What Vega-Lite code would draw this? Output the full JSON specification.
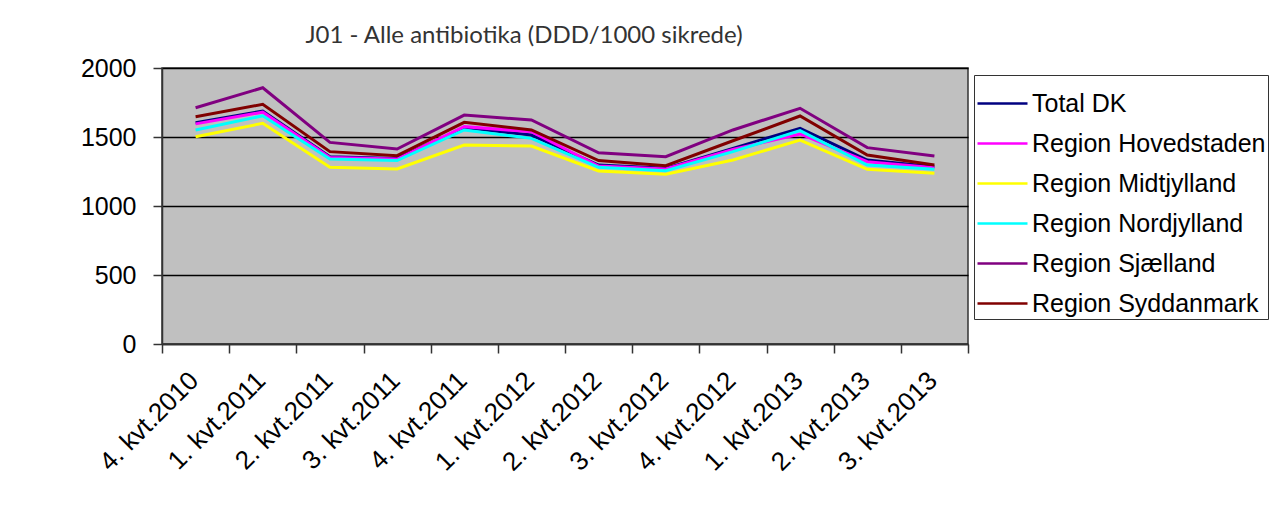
{
  "$schema": "https://vega.github.io/schema/vega-lite/v6.json",
  "autosize": {"type": "none"},
  "padding": {"left": 162, "top": 68, "right": 317, "bottom": 186},
  "width": 806,
  "height": 276,
  "background": "white",
  "title": {
    "text": "J01 - Alle antibiotika (DDD/1000 sikrede)",
    "font": "Lato",
    "fontSize": 24,
    "fontWeight": "normal",
    "color": "#333333",
    "anchor": "middle",
    "frame": "group",
    "baseline": "alphabetic",
    "offset": 12,
    "dy": 23,
    "dx": -41
  },
  "data": {
    "values": [
      {"kvartal": "4. kvt.2010", "region": "Total DK", "ddd": 1604},
      {"kvartal": "1. kvt.2011", "region": "Total DK", "ddd": 1688},
      {"kvartal": "2. kvt.2011", "region": "Total DK", "ddd": 1357},
      {"kvartal": "3. kvt.2011", "region": "Total DK", "ddd": 1345},
      {"kvartal": "4. kvt.2011", "region": "Total DK", "ddd": 1568},
      {"kvartal": "1. kvt.2012", "region": "Total DK", "ddd": 1514},
      {"kvartal": "2. kvt.2012", "region": "Total DK", "ddd": 1297},
      {"kvartal": "3. kvt.2012", "region": "Total DK", "ddd": 1273},
      {"kvartal": "4. kvt.2012", "region": "Total DK", "ddd": 1418},
      {"kvartal": "1. kvt.2013", "region": "Total DK", "ddd": 1563},
      {"kvartal": "2. kvt.2013", "region": "Total DK", "ddd": 1333},
      {"kvartal": "3. kvt.2013", "region": "Total DK", "ddd": 1285},
      {"kvartal": "4. kvt.2010", "region": "Region Hovedstaden", "ddd": 1595},
      {"kvartal": "1. kvt.2011", "region": "Region Hovedstaden", "ddd": 1680},
      {"kvartal": "2. kvt.2011", "region": "Region Hovedstaden", "ddd": 1352},
      {"kvartal": "3. kvt.2011", "region": "Region Hovedstaden", "ddd": 1340},
      {"kvartal": "4. kvt.2011", "region": "Region Hovedstaden", "ddd": 1575},
      {"kvartal": "1. kvt.2012", "region": "Region Hovedstaden", "ddd": 1538},
      {"kvartal": "2. kvt.2012", "region": "Region Hovedstaden", "ddd": 1290},
      {"kvartal": "3. kvt.2012", "region": "Region Hovedstaden", "ddd": 1268},
      {"kvartal": "4. kvt.2012", "region": "Region Hovedstaden", "ddd": 1410},
      {"kvartal": "1. kvt.2013", "region": "Region Hovedstaden", "ddd": 1522},
      {"kvartal": "2. kvt.2013", "region": "Region Hovedstaden", "ddd": 1321},
      {"kvartal": "3. kvt.2013", "region": "Region Hovedstaden", "ddd": 1278},
      {"kvartal": "4. kvt.2010", "region": "Region Midtjylland", "ddd": 1502},
      {"kvartal": "1. kvt.2011", "region": "Region Midtjylland", "ddd": 1599},
      {"kvartal": "2. kvt.2011", "region": "Region Midtjylland", "ddd": 1280},
      {"kvartal": "3. kvt.2011", "region": "Region Midtjylland", "ddd": 1268},
      {"kvartal": "4. kvt.2011", "region": "Region Midtjylland", "ddd": 1442},
      {"kvartal": "1. kvt.2012", "region": "Region Midtjylland", "ddd": 1435},
      {"kvartal": "2. kvt.2012", "region": "Region Midtjylland", "ddd": 1254},
      {"kvartal": "3. kvt.2012", "region": "Region Midtjylland", "ddd": 1230},
      {"kvartal": "4. kvt.2012", "region": "Region Midtjylland", "ddd": 1333},
      {"kvartal": "1. kvt.2013", "region": "Region Midtjylland", "ddd": 1478},
      {"kvartal": "2. kvt.2013", "region": "Region Midtjylland", "ddd": 1266},
      {"kvartal": "3. kvt.2013", "region": "Region Midtjylland", "ddd": 1237},
      {"kvartal": "4. kvt.2010", "region": "Region Nordjylland", "ddd": 1551},
      {"kvartal": "1. kvt.2011", "region": "Region Nordjylland", "ddd": 1654},
      {"kvartal": "2. kvt.2011", "region": "Region Nordjylland", "ddd": 1341},
      {"kvartal": "3. kvt.2011", "region": "Region Nordjylland", "ddd": 1329},
      {"kvartal": "4. kvt.2011", "region": "Region Nordjylland", "ddd": 1551},
      {"kvartal": "1. kvt.2012", "region": "Region Nordjylland", "ddd": 1490},
      {"kvartal": "2. kvt.2012", "region": "Region Nordjylland", "ddd": 1280},
      {"kvartal": "3. kvt.2012", "region": "Region Nordjylland", "ddd": 1256},
      {"kvartal": "4. kvt.2012", "region": "Region Nordjylland", "ddd": 1394},
      {"kvartal": "1. kvt.2013", "region": "Region Nordjylland", "ddd": 1546},
      {"kvartal": "2. kvt.2013", "region": "Region Nordjylland", "ddd": 1297},
      {"kvartal": "3. kvt.2013", "region": "Region Nordjylland", "ddd": 1266},
      {"kvartal": "4. kvt.2010", "region": "Region Sjælland", "ddd": 1712},
      {"kvartal": "1. kvt.2011", "region": "Region Sjælland", "ddd": 1857},
      {"kvartal": "2. kvt.2011", "region": "Region Sjælland", "ddd": 1461},
      {"kvartal": "3. kvt.2011", "region": "Region Sjælland", "ddd": 1413},
      {"kvartal": "4. kvt.2011", "region": "Region Sjælland", "ddd": 1659},
      {"kvartal": "1. kvt.2012", "region": "Region Sjælland", "ddd": 1623},
      {"kvartal": "2. kvt.2012", "region": "Region Sjælland", "ddd": 1386},
      {"kvartal": "3. kvt.2012", "region": "Region Sjælland", "ddd": 1357},
      {"kvartal": "4. kvt.2012", "region": "Region Sjælland", "ddd": 1551},
      {"kvartal": "1. kvt.2013", "region": "Region Sjælland", "ddd": 1708},
      {"kvartal": "2. kvt.2013", "region": "Region Sjælland", "ddd": 1423},
      {"kvartal": "3. kvt.2013", "region": "Region Sjælland", "ddd": 1362},
      {"kvartal": "4. kvt.2010", "region": "Region Syddanmark", "ddd": 1647},
      {"kvartal": "1. kvt.2011", "region": "Region Syddanmark", "ddd": 1737},
      {"kvartal": "2. kvt.2011", "region": "Region Syddanmark", "ddd": 1394},
      {"kvartal": "3. kvt.2011", "region": "Region Syddanmark", "ddd": 1365},
      {"kvartal": "4. kvt.2011", "region": "Region Syddanmark", "ddd": 1606},
      {"kvartal": "1. kvt.2012", "region": "Region Syddanmark", "ddd": 1551},
      {"kvartal": "2. kvt.2012", "region": "Region Syddanmark", "ddd": 1329},
      {"kvartal": "3. kvt.2012", "region": "Region Syddanmark", "ddd": 1292},
      {"kvartal": "4. kvt.2012", "region": "Region Syddanmark", "ddd": 1473},
      {"kvartal": "1. kvt.2013", "region": "Region Syddanmark", "ddd": 1652},
      {"kvartal": "2. kvt.2013", "region": "Region Syddanmark", "ddd": 1370},
      {"kvartal": "3. kvt.2013", "region": "Region Syddanmark", "ddd": 1297}
    ]
  },
  "mark": {"type": "line", "strokeWidth": 3},
  "encoding": {
    "x": {
      "field": "kvartal",
      "type": "ordinal",
      "sort": null,
      "scale": {"type": "band", "paddingInner": 0, "paddingOuter": 0},
      "axis": {
        "title": null,
        "labelAngle": -45,
        "labelFont": "Liberation Sans",
        "labelFontSize": 26,
        "labelColor": "#000000",
        "labelPadding": 14,
        "labelOffset": -11,
        "tickBand": "extent",
        "tickSize": 9,
        "tickColor": "#333333",
        "tickWidth": 1.5,
        "domainColor": "#333333",
        "domainWidth": 1.5,
        "grid": false
      }
    },
    "y": {
      "field": "ddd",
      "type": "quantitative",
      "scale": {"domain": [0, 2000], "nice": false},
      "axis": {
        "title": null,
        "values": [0, 500, 1000, 1500, 2000],
        "format": "d",
        "labelFont": "Liberation Sans",
        "labelFontSize": 25,
        "labelColor": "#000000",
        "labelPadding": 17,
        "tickSize": 9,
        "tickColor": "#333333",
        "tickWidth": 1.5,
        "domainColor": "#333333",
        "domainWidth": 1.5,
        "grid": true,
        "gridColor": "#000000",
        "gridWidth": 1.5,
        "gridOpacity": 1
      }
    },
    "color": {
      "field": "region",
      "type": "nominal",
      "scale": {
        "domain": ["Total DK", "Region Hovedstaden", "Region Midtjylland", "Region Nordjylland", "Region Sjælland", "Region Syddanmark"],
        "range": ["#000080", "#FF00FF", "#FFFF00", "#00FFFF", "#800080", "#800000"]
      },
      "legend": {
        "title": null,
        "orient": "none",
        "legendX": 812,
        "legendY": 7,
        "fillColor": "#FFFFFF",
        "strokeColor": "#333333",
        "padding": 2,
        "symbolType": "stroke",
        "symbolSize": 2500,
        "symbolStrokeWidth": 2.5,
        "rowPadding": 0,
        "labelOffset": 3,
        "labelFont": "Liberation Sans",
        "labelFontSize": 25,
        "labelColor": "#000000",
        "labelLimit": 400
      }
    }
  },
  "config": {
    "view": {"fill": "#C0C0C0", "stroke": "#333333", "strokeWidth": 1.5}
  }
}
